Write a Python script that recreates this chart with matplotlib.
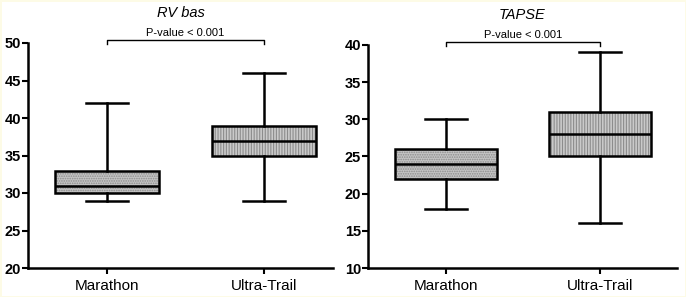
import matplotlib
matplotlib.use("Agg")
import matplotlib.pyplot as plt

plt.rcParams['font.family'] = ['Liberation Sans', 'DejaVu Sans']
plt.rcParams['hatch.linewidth'] = 0.8

groups = ['Marathon', 'Ultra-Trail']

# RV bas
rv_low = [29, 29]
rv_q1 = [30, 35]
rv_med = [31, 37]
rv_q3 = [33, 39]
rv_high = [42, 46]

# TAPSE
tp_low = [18, 16]
tp_q1 = [22, 25]
tp_med = [24, 28]
tp_q3 = [26, 31]
tp_high = [30, 39]

pvalue_text = 'P-value < 0.001'


def stats(low, q1, med, q3, high):
    out = []
    for i in range(len(groups)):
        out.append(dict(whislo=low[i], q1=q1[i], med=med[i], q3=q3[i],
                        whishi=high[i], fliers=[], label=groups[i]))
    return out


def panel(ax, st, title, ylim, yticks, xlim):
    bp = ax.bxp(st, positions=[0, 1], widths=0.66, patch_artist=True,
                showfliers=False,
                boxprops=dict(linewidth=1.8, edgecolor='black'),
                medianprops=dict(color='black', linewidth=1.8),
                whiskerprops=dict(color='black', linewidth=1.8),
                capprops=dict(color='black', linewidth=1.8),
                capwidths=0.27)
    hatches = ['.......', '||||||']
    faces = ['#c4c4c4', '#cacaca']
    for b, h, fc in zip(bp['boxes'], hatches, faces):
        b.set_facecolor(fc)
        b.set_hatch(h)
        b.set_edgecolor('black')
        b._hatch_color = (0.55, 0.55, 0.55, 1.0)
    ax.set_xlim(*xlim)
    ax.set_ylim(*ylim)
    ax.set_yticks(yticks)
    ax.set_xticks([0, 1])
    ax.set_xticklabels(groups, fontsize=11)
    for lbl in ax.get_yticklabels():
        lbl.set_fontweight('bold')
        lbl.set_fontsize(10.5)
    ax.spines['top'].set_visible(False)
    ax.spines['right'].set_visible(False)
    ax.spines['left'].set_linewidth(1.8)
    ax.spines['bottom'].set_linewidth(1.8)
    ax.tick_params(axis='both', width=1.5, length=4, pad=1)
    ax.tick_params(axis='x', pad=4)
    ax.set_title(title, fontstyle='italic', fontsize=10.5, pad=19)
    # significance bracket
    top = ylim[1]
    d = (ylim[1] - ylim[0]) * 0.015
    yb = top + d * 0.8
    ax.plot([0, 0, 1, 1], [yb - d, yb, yb, yb - d], color='black',
            linewidth=1, clip_on=False)
    ax.text(0.5, yb + d * 0.8, pvalue_text, ha='center', va='bottom',
            fontsize=8)


fig = plt.figure(figsize=(6.86, 2.97), dpi=100)
fig.patch.set_edgecolor('#fdfbe6')
fig.patch.set_linewidth(2)
ax1 = fig.add_axes([28 / 686, 29 / 297, 305 / 686, 225 / 297])
ax2 = fig.add_axes([368 / 686, 29 / 297, 309 / 686, 223 / 297])

panel(ax1, stats(rv_low, rv_q1, rv_med, rv_q3, rv_high), 'RV bas',
      (20, 50), range(20, 51, 5), (-0.503, 1.44))
panel(ax2, stats(tp_low, tp_q1, tp_med, tp_q3, tp_high), 'TAPSE',
      (10, 40), range(10, 41, 5), (-0.506, 1.5))

fig.savefig('out.png', dpi=100)
